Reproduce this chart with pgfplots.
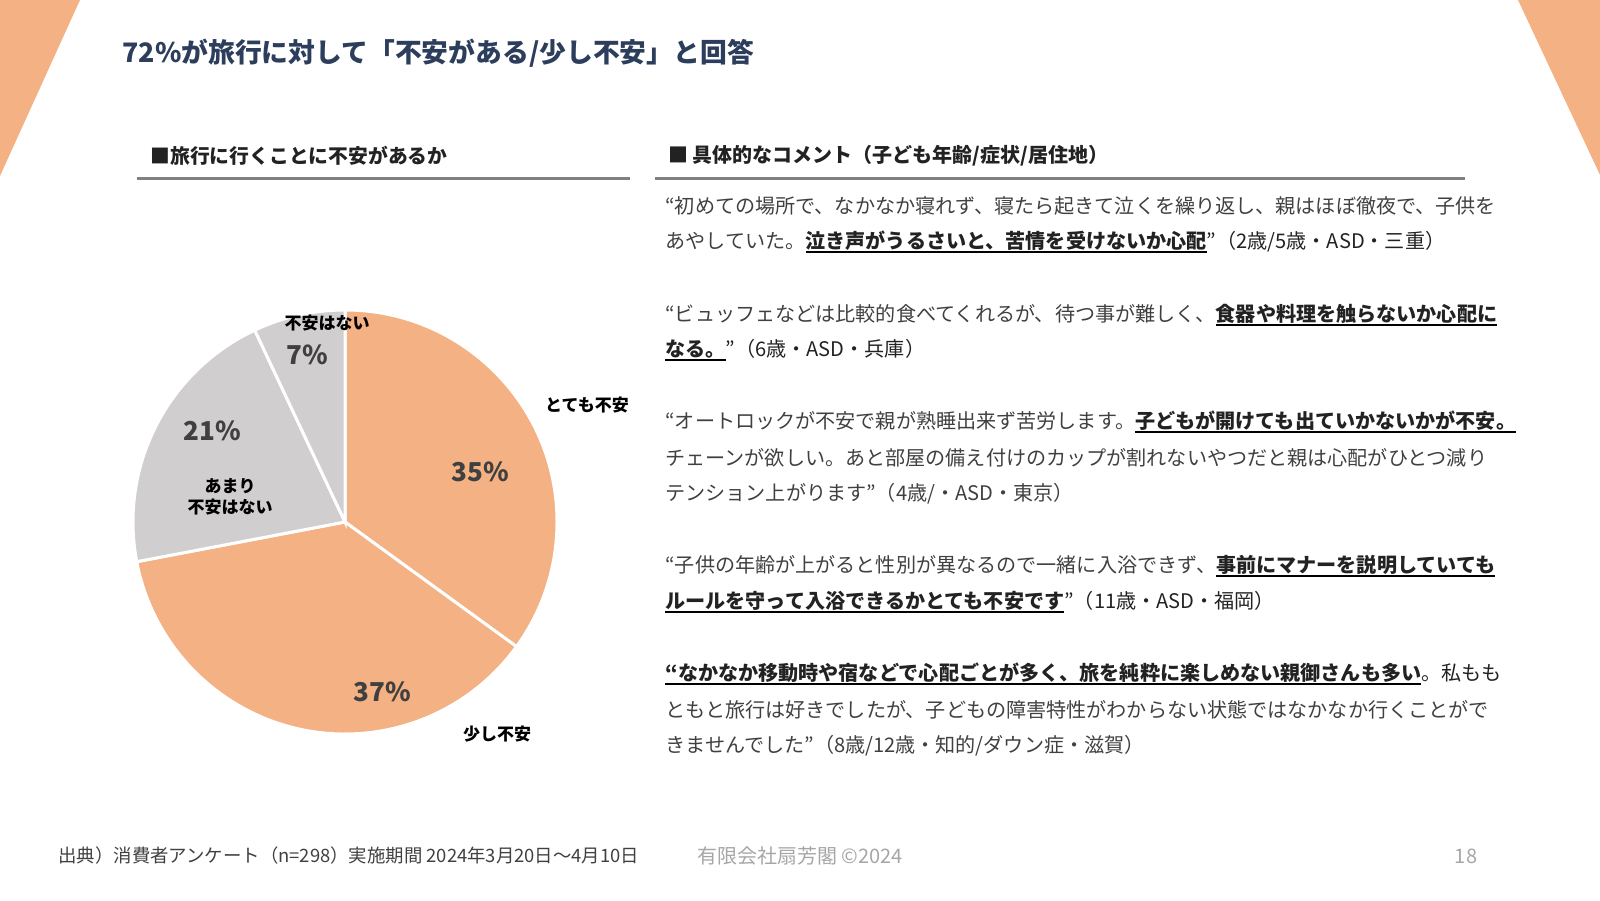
\documentclass[border=0pt]{standalone}
\usepackage{fontspec}
\setmainfont{Noto Sans CJK JP}
\usepackage{pgfplots}
\usepackage{pgfplotstable}
\pgfplotsset{compat=1.18}

\definecolor{pieorange}{HTML}{F4B183}
\definecolor{piegray}{HTML}{D0CECE}
\definecolor{titleblue}{HTML}{2C3E5C}
\definecolor{rulegray}{HTML}{808080}
\definecolor{bodytext}{HTML}{404040}
\definecolor{boldtext}{HTML}{222222}
\definecolor{footgray}{HTML}{A6A6A6}

% underline that keeps the box width
\newcommand\ul[1]{\setbox0\hbox{#1}\rlap{\rule[-0.2em]{\wd0}{0.07em}}\box0}
\newcommand\hl[1]{\ul{\bfseries\color{boldtext}#1}}

% share of answers, clockwise from the top
\pgfplotstableread{
idx value
0 35
1 37
2 21
3 7
}\pietable
\pgfplotstablegetelem{0}{value}\of\pietable \let\vA\pgfplotsretval
\pgfplotstablegetelem{1}{value}\of\pietable \let\vB\pgfplotsretval
\pgfplotstablegetelem{2}{value}\of\pietable \let\vC\pgfplotsretval
\pgfplotstablegetelem{3}{value}\of\pietable \let\vD\pgfplotsretval
\pgfmathsetmacro\aA{90-3.6*\vA}
\pgfmathsetmacro\aB{\aA-3.6*\vB}
\pgfmathsetmacro\aC{\aB-3.6*\vC}
\pgfmathsetmacro\aD{\aC-3.6*\vD}

\begin{document}
\begin{tikzpicture}
\begin{axis}[
    scale only axis, width=800pt, height=450pt,
    xmin=0, xmax=1600, ymin=0, ymax=900,
    hide axis, clip=false,
]
\addplot[draw=none] coordinates {(0,0) (1600,900)};
\path (axis cs:0,0) rectangle (axis cs:1600,900);

% corner triangles
\fill[pieorange] (axis cs:0,900) -- (axis cs:80,900) -- (axis cs:0,724) -- cycle;
\fill[pieorange] (axis cs:1518,900) -- (axis cs:1600,900) -- (axis cs:1600,725) -- cycle;

% title
\node[anchor=west, inner sep=0, text=titleblue, font=\fontsize{13.4pt}{15pt}\selectfont\bfseries]
    at (axis cs:122,847) {72\%が旅行に対して「不安がある/少し不安」と回答};

% section headers
\node[anchor=west, inner sep=0, text=boldtext, font=\fontsize{9.9pt}{12pt}\selectfont\bfseries]
    at (axis cs:150,744) {■旅行に行くことに不安があるか};
\draw[rulegray, line width=1.2pt] (axis cs:137,721.4) -- (axis cs:630,721.4);
\node[anchor=west, inner sep=0, text=boldtext, font=\fontsize{10pt}{12pt}\selectfont\bfseries]
    at (axis cs:668,744) {■ 具体的なコメント（子ども年齢/症状/居住地）};
\draw[rulegray, line width=1.2pt] (axis cs:655,721.4) -- (axis cs:1465,721.4);

% pie
\fill[pieorange, draw=white, line width=1.5pt] (axis cs:345,378) -- ++(90:106pt)
    arc[start angle=90, end angle=\aA, radius=106pt] -- cycle;
\fill[pieorange, draw=white, line width=1.5pt] (axis cs:345,378) -- ++(\aA:106pt)
    arc[start angle=\aA, end angle=\aB, radius=106pt] -- cycle;
\fill[piegray, draw=white, line width=1.5pt] (axis cs:345,378) -- ++(\aB:106pt)
    arc[start angle=\aB, end angle=\aC, radius=106pt] -- cycle;
\fill[piegray, draw=white, line width=1.5pt] (axis cs:345,378) -- ++(\aC:106pt)
    arc[start angle=\aC, end angle=\aD, radius=106pt] -- cycle;

\begin{scope}[every node/.style={inner sep=0, text=bodytext, font=\fontsize{13pt}{15pt}\selectfont\bfseries}]
\node at (axis cs:480,428) {\vA\%};
\node at (axis cs:382,208) {\vB\%};
\node at (axis cs:212,469) {\vC\%};
\node at (axis cs:307,545) {\vD\%};
\end{scope}
\begin{scope}[every node/.style={inner sep=0, text=black, align=center, font=\fontsize{8.5pt}{10.7pt}\selectfont\bfseries}]
\node at (axis cs:587,495) {とても不安};
\node at (axis cs:497,166) {少し不安};
\node at (axis cs:230,403) {あまり\\不安はない};
\node at (axis cs:327,577) {不安はない};
\end{scope}

% comments
\begin{scope}[every node/.style={anchor=west, inner sep=0, text=bodytext, font=\fontsize{10.05pt}{12pt}\selectfont}]
\node at (axis cs:665,694) {“初めての場所で、なかなか寝れず、寝たら起きて泣くを繰り返し、親はほぼ徹夜で、子供を};
\node at (axis cs:665,658) {あやしていた。\hl{泣き声がうるさいと、苦情を受けないか心配}”（2歳/5歳・ASD・三重）};
\node at (axis cs:665,585) {“ビュッフェなどは比較的食べてくれるが、待つ事が難しく、\hl{食器や料理を触らないか心配に}};
\node at (axis cs:665,550) {\hl{なる。}”（6歳・ASD・兵庫）};
\node at (axis cs:665,478) {“オートロックが不安で親が熟睡出来ず苦労します。\hl{子どもが開けても出ていかないかが不安。}};
\node at (axis cs:665,442) {チェーンが欲しい。あと部屋の備え付けのカップが割れないやつだと親は心配がひとつ減り};
\node at (axis cs:665,406) {テンション上がります”（4歳/・ASD・東京）};
\node at (axis cs:665,334) {“子供の年齢が上がると性別が異なるので一緒に入浴できず、\hl{事前にマナーを説明していても}};
\node at (axis cs:665,298) {\hl{ルールを守って入浴できるかとても不安です}”（11歳・ASD・福岡）};
\node at (axis cs:665,226) {\hl{“なかなか移動時や宿などで心配ごとが多く、旅を純粋に楽しめない親御さんも多い}。私もも};
\node at (axis cs:665,190) {ともと旅行は好きでしたが、子どもの障害特性がわからない状態ではなかなか行くことがで};
\node at (axis cs:665,154) {きませんでした”（8歳/12歳・知的/ダウン症・滋賀）};
\end{scope}

% footer
\node[anchor=west, inner sep=0, text=bodytext, font=\fontsize{9.2pt}{11pt}\selectfont]
    at (axis cs:58,44) {出典）消費者アンケート（n=298）実施期間 2024年3月20日～4月10日};
\node[anchor=west, inner sep=0, text=footgray, font=\fontsize{10pt}{11pt}\selectfont]
    at (axis cs:697,44) {有限会社扇芳閣 ©2024};
\node[inner sep=0, text=footgray, font=\fontsize{10pt}{11pt}\selectfont]
    at (axis cs:1466,44) {18};
\end{axis}
\end{tikzpicture}
\end{document}
